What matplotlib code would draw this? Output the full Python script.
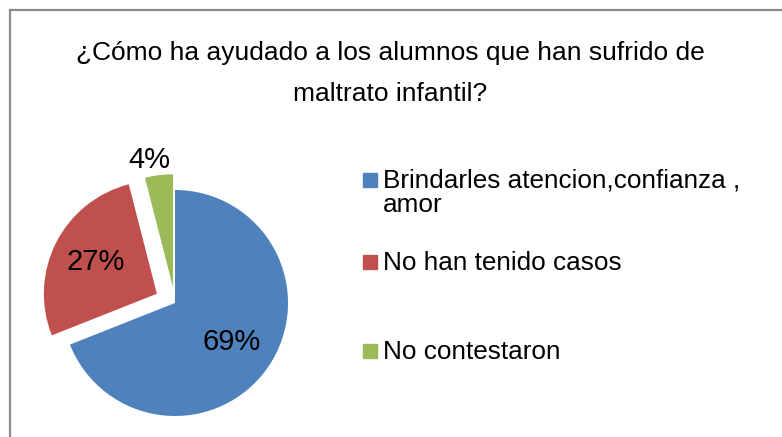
import matplotlib.pyplot as plt
import numpy as np
from matplotlib.patches import Rectangle
from matplotlib.lines import Line2D

plt.rcParams['font.family'] = ['Liberation Sans', 'DejaVu Sans']

# datos
categorias = ['Brindarles atencion,confianza ,\namor', 'No han tenido casos', 'No contestaron']
porcentajes = [69, 27, 4]
colores = ['#4F81BD', '#C0504D', '#9BBB59']
explosion = [0, 0.18, 0.14]

W, H = 782, 437
fig = plt.figure(figsize=(W / 100, H / 100), dpi=100)

# marco gris (solo arriba e izquierda visibles)
fig.add_artist(Line2D([10 / W, 1], [1 - 10 / H, 1 - 10 / H], color='#8c8c8c', lw=1.6))
fig.add_artist(Line2D([10 / W, 10 / W], [0, 1 - 10 / H], color='#8c8c8c', lw=1.6))

# titulo
fig.text(390 / W, 1 - 53 / H, '¿Cómo ha ayudado a los alumnos que han sufrido de',
         ha='center', va='center', fontsize=19)
fig.text(390 / W, 1 - 94 / H, 'maltrato infantil?', ha='center', va='center', fontsize=19)

# pastel
r = 113
cx, cy = 175, H - 303
lado = 2.6 * r
ax = fig.add_axes([(cx - lado / 2) / W, (cy - lado / 2) / H, lado / W, lado / H])
wedges, textos, autotextos = ax.pie(porcentajes, colors=colores, explode=explosion,
                                    startangle=90, counterclock=False,
                                    autopct='%1.0f%%', pctdistance=0.61,
                                    textprops={'fontsize': 21})
for w in wedges:
    w.set_clip_on(False)
# etiqueta del 4% fuera de la porcion
w = wedges[2]
ang = np.deg2rad((w.theta1 + w.theta2) / 2)
autotextos[2].set_position((w.center[0] + 1.16 * np.cos(ang) - 0.06,
                            w.center[1] + 1.16 * np.sin(ang) - 0.02))
ax.set_xlim(-1.3, 1.3)
ax.set_ylim(-1.3, 1.3)
ax.set_aspect('equal')
ax.axis('off')

# leyenda manual (linea base de cada entrada, en pixeles desde arriba)
pos_y = [188, 270, 359]
for cat, col, y in zip(categorias, colores, pos_y):
    fig.add_artist(Rectangle((363 / W, 1 - (y - 1) / H), 14 / W, 14 / H,
                             transform=fig.transFigure, color=col))
    for i, linea in enumerate(cat.split('\n')):
        fig.text(383 / W, 1 - (y + 24 * i) / H, linea, ha='left', va='baseline',
                 fontsize=18.8)

plt.savefig('out.png', dpi=100)
